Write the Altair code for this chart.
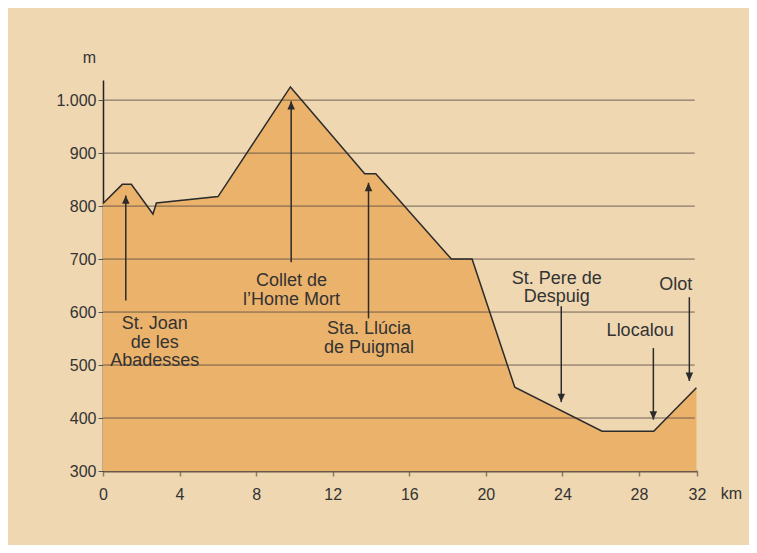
import altair as alt
import pandas as pd

# Elevation profile (km, m)
km = [0, 1.01, 1.48, 2.61, 2.79, 6.01, 9.79, 13.67, 14.25, 18.20, 19.28, 21.51, 26.07, 28.77, 31.0]
elev = [805, 841, 841, 785, 806, 818, 1025, 861, 861, 700, 700, 458, 375, 375, 457]

# Axis ticks
x_tick_vals = [0, 4, 8, 12, 16, 20, 24, 28, 31.03]
x_tick_labels = ["0", "4", "8", "12", "16", "20", "24", "28", "32"]
y_tick_vals = [300, 400, 500, 600, 700, 800, 900, 1000]
grid_vals = [400, 500, 600, 700, 800, 900, 1000]

# Arrows: x (km), start (m), tip (m), direction
arrow_x = [1.19, 9.83, 13.87, 23.94, 28.75, 30.63]
arrow_from = [622, 694, 588, 611, 532, 628]
arrow_tip = [820, 998, 844, 430, 397, 470]
arrow_dir = ["up", "up", "up", "down", "down", "down"]

# Place name labels: centre x (km), first line y (m), lines
label_x = [2.70, 9.85, 13.90, 23.70, 28.06, 29.92]
label_y = [577, 658, 568, 663, 564, 651]
label_lines = [
    ["St. Joan", "de les", "Abadesses"],
    ["Collet de", "l\u2019Home Mort"],
    ["Sta. Llúcia", "de Puigmal"],
    ["St. Pere de", "Despuig"],
    ["Llocalou"],
    ["Olot"],
]
line_step_m = 35  # spacing between text lines in metres

profile = pd.DataFrame({"km": km, "m": elev, "base": [300] * len(km)})
grid = pd.DataFrame({"m": grid_vals})
arrows = pd.DataFrame({"km": arrow_x, "m0": arrow_from, "m1": arrow_tip, "dir": arrow_dir})
rows = []
for x, y, lines in zip(label_x, label_y, label_lines):
    for i, t in enumerate(lines):
        rows.append({"km": x, "m": y - i * line_step_m, "text": t})
labels = pd.DataFrame(rows)

FONT = "Liberation Sans"
TXT = "#333333"
DARK = "#2b2b2b"

lab_map = "{" + ",".join(f"'{v}':'{l}'" for v, l in zip(x_tick_vals, x_tick_labels)) + "}"

xscale = alt.Scale(domain=[0, 31.03], nice=False, zero=False)
yscale = alt.Scale(domain=[300, 1038], nice=False, zero=False)

x_axis = alt.Axis(
    values=x_tick_vals,
    labelExpr=f"{lab_map}[toString(datum.value)]",
    labelFlush=False,
    title="km", titleX=628, titleY=22, titleAngle=0, titleAlign="center",
    titleBaseline="middle", titleFontWeight="normal", titleFontSize=16,
    titleFont=FONT, titleColor=TXT,
    labelFont=FONT, labelFontSize=16, labelColor=TXT, labelPadding=10,
    grid=False, domainColor="#6b5a48", domainWidth=2,
    tickColor="#8a7a68", tickSize=5, tickWidth=1.5,
)
y_axis = alt.Axis(
    values=y_tick_vals,
    labelExpr="replace(format(datum.value, ','), ',', '.')",
    labelFlush=False,
    title="m", titleX=-14, titleY=-23, titleAngle=0, titleAlign="center",
    titleBaseline="middle", titleFontWeight="normal", titleFontSize=16,
    titleFont=FONT, titleColor=TXT,
    labelFont=FONT, labelFontSize=16, labelColor=TXT, labelPadding=2,
    grid=False, domainColor="#222222", domainWidth=1.5,
    tickColor="#555555", tickSize=5, tickWidth=1,
)

area = alt.Chart(profile).mark_area(color="#EBB26B", opacity=1).encode(
    x=alt.X("km:Q", scale=xscale, axis=x_axis),
    y=alt.Y("m:Q", scale=yscale, axis=y_axis),
    y2="base:Q",
)

grid_layer = alt.Chart(grid).mark_rule(color="#5a4e44", strokeWidth=1, opacity=0.85).encode(
    x=alt.datum(0, scale=xscale),
    x2=alt.datum(30.91),
    y=alt.Y("m:Q", scale=yscale),
)

line = alt.Chart(profile).mark_line(color=DARK, strokeWidth=1.5).encode(
    x=alt.X("km:Q", scale=xscale),
    y=alt.Y("m:Q", scale=yscale),
)

stems = alt.Chart(arrows).mark_rule(color=DARK, strokeWidth=1.5).encode(
    x=alt.X("km:Q", scale=xscale),
    y=alt.Y("m0:Q", scale=yscale),
    y2="m1:Q",
)

up_head = alt.Chart(arrows).transform_filter(alt.datum.dir == "up").mark_point(
    shape="M0,0 L-0.9,2 L0.9,2 Z", filled=True, color=DARK, opacity=1, size=70, strokeWidth=0
).encode(x=alt.X("km:Q", scale=xscale), y=alt.Y("m1:Q", scale=yscale))

down_head = alt.Chart(arrows).transform_filter(alt.datum.dir == "down").mark_point(
    shape="M0,0 L-0.9,-2 L0.9,-2 Z", filled=True, color=DARK, opacity=1, size=70, strokeWidth=0
).encode(x=alt.X("km:Q", scale=xscale), y=alt.Y("m1:Q", scale=yscale))

texts = alt.Chart(labels).mark_text(
    font=FONT, fontSize=18, color=TXT, align="center", baseline="middle"
).encode(
    x=alt.X("km:Q", scale=xscale),
    y=alt.Y("m:Q", scale=yscale),
    text="text:N",
)

chart = alt.layer(area, grid_layer, line, stems, up_head, down_head, texts).properties(
    width=594, height=391,
    autosize=alt.AutoSizeParams(type="none"),
    padding={"left": 95, "top": 72, "right": 52, "bottom": 74},
    background="#EFD7B2",
).configure_view(stroke=None)

chart.save("out.html", embed_options={"renderer": "svg", "actions": False})
